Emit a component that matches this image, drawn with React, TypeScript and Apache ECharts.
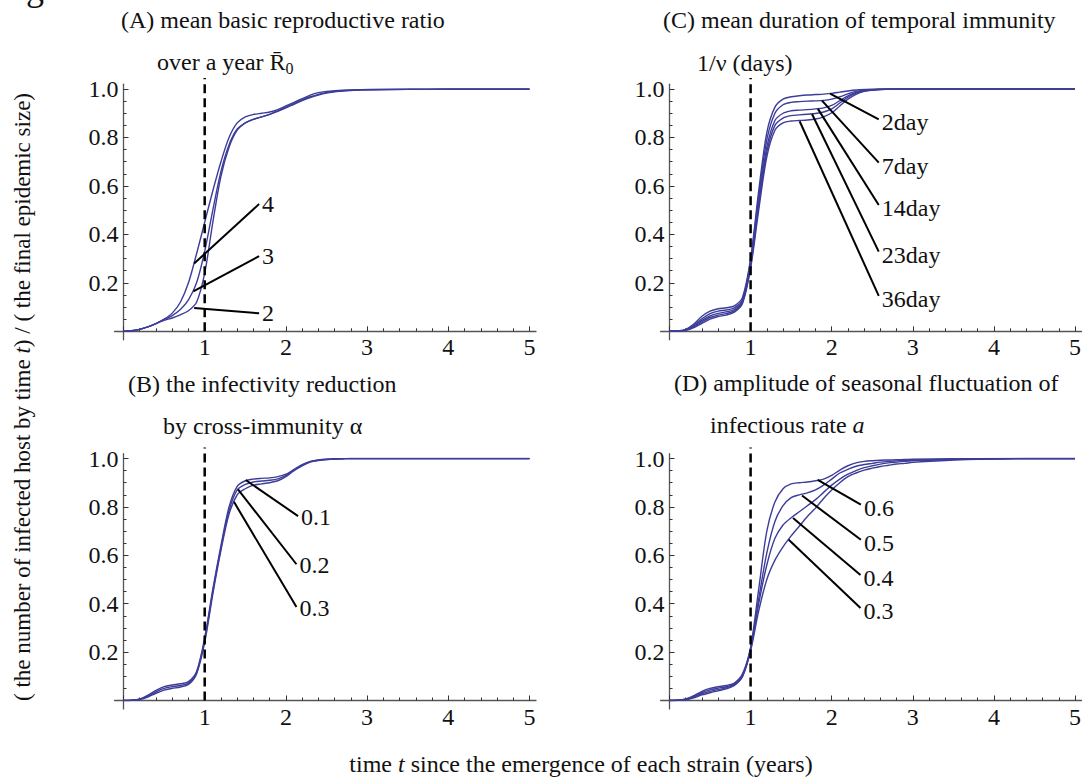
import React, { useEffect, useRef } from "react";
import * as echarts from "echarts";

// ---------- data ----------
const T = [0, 0.1, 0.2, 0.3, 0.4, 0.5, 0.6, 0.7, 0.8, 0.9, 1.0, 1.1, 1.2, 1.3, 1.4, 1.5, 1.6, 1.7, 1.8, 1.9, 2.0, 2.1, 2.2, 2.3, 2.4, 2.5, 2.6, 2.7, 2.8, 2.9, 3.0, 3.5, 4, 4.5, 5];

// (A) mean basic reproductive ratio R0 = 2, 3, 4
const A_R2 = [0, .002, .008, .018, .032, .045, .055, .068, .085, .12, .24, .45, .64, .76, .83, .86, .875, .885, .895, .908, .922, .937, .952, .965, .975, .983, .988, .992, .994, .996, .997, .999, 1, 1, 1];
const A_R3 = [0, .002, .008, .018, .032, .048, .065, .09, .13, .20, .33, .50, .66, .77, .835, .86, .875, .885, .895, .91, .925, .94, .955, .968, .978, .985, .99, .993, .995, .996, .997, .999, 1, 1, 1];
const A_R4 = [0, .002, .008, .018, .032, .05, .075, .12, .20, .32, .45, .58, .70, .80, .86, .885, .895, .90, .905, .915, .93, .945, .96, .975, .985, .99, .993, .995, .996, .997, .998, .999, 1, 1, 1];

// (B) infectivity reduction alpha = 0.1, 0.2, 0.3
const B_01 = [0, .001, .006, .022, .042, .057, .064, .069, .078, .12, .26, .46, .64, .80, .885, .908, .915, .918, .92, .925, .935, .955, .975, .988, .994, .997, .998, .999, 1, 1, 1, 1, 1, 1, 1];
const B_02 = [0, .001, .005, .018, .036, .05, .057, .062, .072, .115, .25, .45, .63, .785, .87, .893, .903, .907, .91, .916, .93, .952, .973, .987, .993, .996, .998, .999, 1, 1, 1, 1, 1, 1, 1];
const B_03 = [0, .001, .004, .014, .03, .043, .05, .056, .066, .11, .24, .44, .62, .77, .85, .875, .89, .895, .90, .908, .925, .95, .97, .985, .992, .996, .998, .999, 1, 1, 1, 1, 1, 1, 1];

// (C) mean duration of temporal immunity 2, 7, 14, 23, 36 days
const C_2 = [0, .001, .008, .03, .062, .083, .093, .097, .105, .14, .30, .58, .82, .925, .958, .968, .972, .975, .977, .979, .982, .987, .992, .996, .998, .999, 1, 1, 1, 1, 1, 1, 1, 1, 1];
const C_7 = [0, .001, .007, .025, .052, .073, .083, .088, .097, .13, .29, .56, .79, .90, .935, .945, .948, .950, .951, .953, .958, .968, .98, .99, .995, .998, .999, 1, 1, 1, 1, 1, 1, 1, 1];
const C_14 = [0, .001, .006, .021, .045, .064, .074, .080, .090, .125, .28, .54, .76, .87, .90, .910, .913, .915, .918, .922, .932, .952, .972, .986, .993, .997, .999, 1, 1, 1, 1, 1, 1, 1, 1];
const C_23 = [0, .001, .005, .018, .039, .057, .067, .073, .084, .12, .27, .52, .74, .85, .88, .890, .893, .896, .899, .905, .918, .942, .966, .983, .992, .996, .998, .999, 1, 1, 1, 1, 1, 1, 1];
const C_36 = [0, .001, .004, .015, .033, .050, .061, .067, .079, .115, .26, .50, .72, .83, .86, .868, .870, .872, .876, .885, .902, .93, .958, .978, .99, .995, .998, .999, 1, 1, 1, 1, 1, 1, 1];

// (D) amplitude of seasonal fluctuation a = 0.3, 0.4, 0.5, 0.6
const D_06 = [0, .001, .006, .02, .038, .05, .057, .062, .072, .11, .22, .46, .70, .82, .875, .895, .90, .903, .908, .915, .93, .952, .97, .982, .988, .991, .993, .994, .995, .996, .997, .999, 1, 1, 1];
const D_05 = [0, .001, .005, .017, .033, .044, .051, .057, .068, .105, .215, .42, .61, .74, .805, .838, .85, .858, .87, .89, .915, .94, .955, .968, .975, .98, .985, .988, .99, .992, .993, .997, .999, 1, 1];
const D_04 = [0, .001, .004, .014, .028, .038, .045, .052, .065, .10, .21, .40, .56, .67, .725, .755, .78, .805, .83, .86, .89, .915, .935, .95, .962, .97, .977, .982, .985, .988, .99, .996, .999, 1, 1];
const D_03 = [0, .001, .003, .011, .023, .032, .04, .048, .062, .098, .205, .37, .50, .58, .635, .68, .72, .76, .795, .835, .87, .90, .925, .94, .952, .96, .967, .972, .977, .98, .984, .994, .998, 1, 1];

// leader lines: [label, fromT, fromV, toT, toV]
const A_LEADERS: [string, number, number, number, number][] = [
  ["4", 0.87, 0.28, 1.67, 0.525],
  ["3", 0.86, 0.165, 1.67, 0.31],
  ["2", 0.87, 0.096, 1.67, 0.074],
];
const B_LEADERS: [string, number, number, number, number][] = [
  ["0.1", 1.505, 0.911, 2.15, 0.762],
  ["0.2", 1.41, 0.872, 2.13, 0.563],
  ["0.3", 1.36, 0.821, 2.13, 0.386],
];
const C_LEADERS: [string, number, number, number, number][] = [
  ["2day", 1.98, 0.981, 2.58, 0.875],
  ["7day", 1.88, 0.952, 2.58, 0.696],
  ["14day", 1.83, 0.918, 2.58, 0.521],
  ["23day", 1.757, 0.897, 2.58, 0.329],
  ["36day", 1.605, 0.867, 2.58, 0.146],
];
const D_LEADERS: [string, number, number, number, number][] = [
  ["0.6", 1.827, 0.912, 2.36, 0.809],
  ["0.5", 1.634, 0.847, 2.36, 0.664],
  ["0.4", 1.523, 0.754, 2.355, 0.519],
  ["0.3", 1.47, 0.664, 2.355, 0.382],
];

const X_TICKS_INTERVAL = 1;
const Y_TICKS_INTERVAL = 0.2;
const DASH_T = 1;
const DASH_TOP = 1.045;

// ---------- layout / style ----------
const W = 1084;
const H = 783;
const FONT = "'Liberation Serif', 'Times New Roman', serif";
const CURVE = "#3d3d99";

const PANELS = [
  { x0: 123.5, x5: 529.5, y0: 331.3, y1: 89, curves: [A_R2, A_R3, A_R4], leaders: A_LEADERS, dy: 0 },
  { x0: 669.5, x5: 1075, y0: 331.3, y1: 89, curves: [C_36, C_23, C_14, C_7, C_2], leaders: C_LEADERS, dy: 3 },
  { x0: 123.5, x5: 529.5, y0: 700.5, y1: 458.5, curves: [B_03, B_02, B_01], leaders: B_LEADERS, dy: 1 },
  { x0: 669.5, x5: 1075, y0: 700.5, y1: 458.5, curves: [D_03, D_04, D_05, D_06], leaders: D_LEADERS, dy: 3 },
];

function buildOption() {
  const grid: any[] = [];
  const xAxis: any[] = [];
  const yAxis: any[] = [];
  const series: any[] = [];

  PANELS.forEach((p, i) => {
    const ux = (p.x5 - p.x0) / 5;
    const uy = p.y0 - p.y1;
    const gMain = 2 * i;
    const gFrame = 2 * i + 1;
    grid.push({ left: p.x0, right: W - p.x5, top: p.y1, bottom: H - p.y0 });
    grid.push({
      left: p.x0 - 0.11 * ux,
      right: W - (p.x5 + 0.08 * ux),
      top: p.y1 - 0.02 * uy,
      bottom: H - (p.y0 + 0.035 * uy),
    });
    const tickStyle = { color: "#333", width: 1 };
    xAxis.push({
      gridIndex: gMain, type: "value", min: 0, max: 5, interval: X_TICKS_INTERVAL,
      axisLine: { show: false },
      axisTick: { show: true, inside: true, length: 5, lineStyle: tickStyle },
      minorTick: { show: true, splitNumber: 5, length: 3, lineStyle: tickStyle },
      axisLabel: {
        margin: 4, fontSize: 24, fontFamily: FONT, color: "#111",
        formatter: (v: number) => (v === 0 ? "" : String(v)),
      },
      splitLine: { show: false },
    });
    xAxis.push({
      gridIndex: gFrame, type: "value", min: -0.11, max: 5.08,
      axisLine: { show: true, onZero: true, lineStyle: { color: "#555", width: 1.3 } },
      axisTick: { show: false }, axisLabel: { show: false }, splitLine: { show: false },
    });
    yAxis.push({
      gridIndex: gMain, type: "value", min: 0, max: 1, interval: Y_TICKS_INTERVAL,
      axisLine: { show: false },
      axisTick: { show: true, inside: true, length: 5, lineStyle: tickStyle },
      minorTick: { show: true, splitNumber: 4, length: 3, lineStyle: tickStyle },
      axisLabel: {
        margin: 5, fontSize: 24, fontFamily: FONT, color: "#111",
        formatter: (v: number) => (v === 0 ? "" : v.toFixed(1)),
      },
      splitLine: { show: false },
    });
    yAxis.push({
      gridIndex: gFrame, type: "value", min: -0.035, max: 1.02,
      axisLine: { show: true, onZero: true, lineStyle: { color: "#555", width: 1.3 } },
      axisTick: { show: false }, axisLabel: { show: false }, splitLine: { show: false },
    });

    p.curves.forEach((arr) => {
      series.push({
        type: "line", xAxisIndex: gMain, yAxisIndex: gMain,
        data: T.map((t, k) => [t, arr[k]]),
        symbol: "none", smooth: 0.3, silent: true,
        lineStyle: { color: CURVE, width: 1.4 },
      });
    });

    series.push({
      type: "line", xAxisIndex: gMain, yAxisIndex: gMain, clip: false,
      data: [[DASH_T, 0], [DASH_T, DASH_TOP]],
      symbol: "none", silent: true,
      lineStyle: { color: "#000", width: 2.5, type: [9, 5] },
    });

    p.leaders.forEach(([label, t1, v1, t2, v2]) => {
      series.push({
        type: "line", xAxisIndex: gMain, yAxisIndex: gMain,
        data: [[t1, v1], [t2, v2]],
        symbol: "none", silent: true,
        lineStyle: { color: "#000", width: 2 },
        endLabel: {
          show: true, formatter: label, distance: 3, offset: [0, p.dy],
          fontSize: 24, fontFamily: FONT, color: "#111",
        },
      });
    });
  });

  const txt = (x: number, y: number, text: string, align = "left", extra: any = {}, size = 24) => ({
    type: "text", x, y, silent: true, ...extra,
    style: {
      text, fill: "#111", fontSize: size, fontFamily: FONT,
      align, textAlign: align, verticalAlign: "middle", textVerticalAlign: "middle",
      rich: {
        it: { fontStyle: "italic", fontSize: size, fontFamily: FONT, fill: "#111" },
        r: { fontSize: size, fontFamily: FONT, fill: "#111" },
        sub: { fontSize: 16, fontFamily: FONT, fill: "#111", padding: [12, 0, 0, 0] },
      },
    },
  });

  const graphic = [
    { type: "text", x: 44, y: -12.5, silent: true, style: { text: "Fig", fill: "#111", fontSize: 36, fontFamily: FONT, align: "right", textAlign: "right", verticalAlign: "middle", textVerticalAlign: "middle" } },
    txt(121, 20, "(A) mean basic reproductive ratio"),
    txt(157, 62, "over a year {r|R\u0304}{sub|0}"),
    txt(663, 20, "(C) mean duration of temporal immunity"),
    txt(697, 63, "1/\u03bd (days)"),
    txt(128, 384, "(B) the infectivity reduction"),
    txt(163, 426, "by cross-immunity \u03b1"),
    txt(674, 383, "(D) amplitude of seasonal fluctuation of"),
    txt(710, 425, "infectious rate {it|a}"),
    txt(581, 764, "time {it|t} since the emergence of each strain (years)", "center"),
    txt(22, 397, "( the number of infected host by time {it|t}) / ( the final epidemic size)", "center", { rotation: Math.PI / 2 }, 23),
  ];

  return {
    animation: false,
    backgroundColor: "#fff",
    grid, xAxis, yAxis, series, graphic,
  };
}

export default function App() {
  const ref = useRef<HTMLDivElement>(null);
  useEffect(() => {
    const chart = echarts.init(ref.current!, null, { renderer: "svg" });
    chart.setOption(buildOption() as any);
    return () => chart.dispose();
  }, []);
  return (
    <div
      ref={ref}
      style={{ position: "absolute", left: 0, top: 0, width: W, height: H, background: "#fff" }}
    />
  );
}
